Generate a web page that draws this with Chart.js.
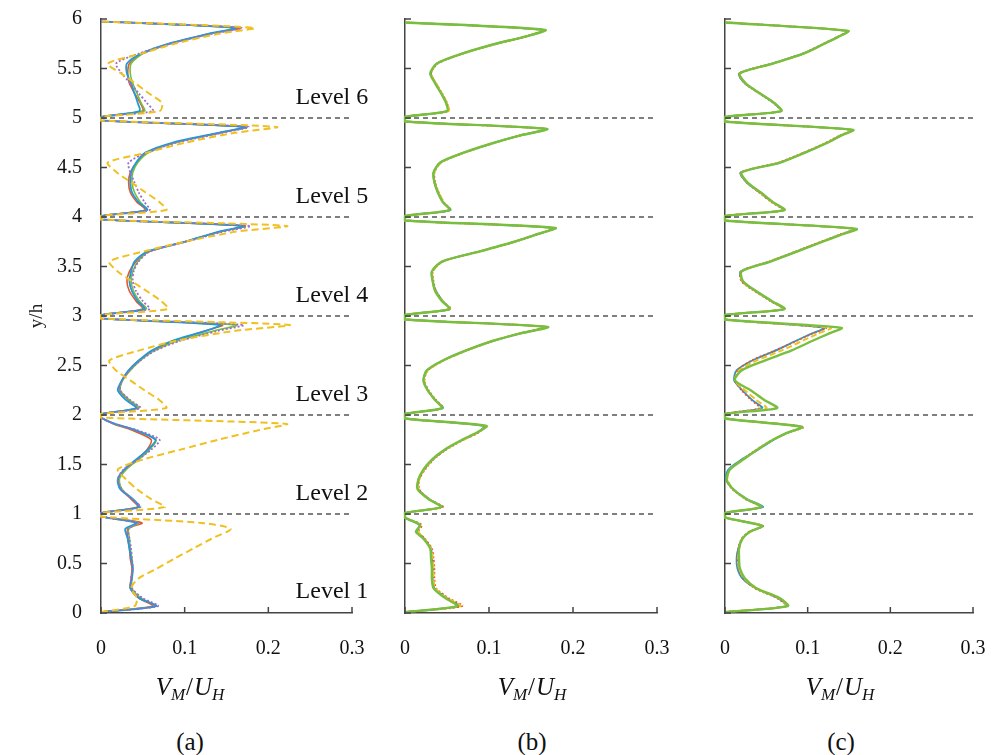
<!DOCTYPE html>
<html>
<head>
<meta charset="utf-8">
<script src="https://cdn.jsdelivr.net/npm/chart.js@4.4.1/dist/chart.umd.min.js"></script>
<style>
  body { margin: 0; background: #fff; }
  #wrap { position: relative; width: 994px; height: 755px; background: #fff; overflow: hidden; }
  canvas { position: absolute; top: 0; }
  .xt, .pl { position: absolute; transform: translateX(-50%); font-family: "Liberation Serif", "Times New Roman", "DejaVu Serif", serif; color: #111; white-space: nowrap; }
  .xt { top: 673px; font-size: 25px; font-style: italic; }
  .xt sub { font-size: 17px; vertical-align: -5px; }
  .xt span { font-style: normal; padding: 0 1px; }
  .pl { top: 728px; font-size: 25px; }
</style>
</head>
<body>
<div id="wrap">
  <canvas id="ca" width="385" height="680" style="left:0px"></canvas>
  <canvas id="cb" width="305" height="680" style="left:370px"></canvas>
  <canvas id="cc" width="304" height="680" style="left:690px"></canvas>
  <div class="xt" style="left:190px"><i>V</i><sub><i>M</i></sub><span>/</span><i>U</i><sub><i>H</i></sub></div>
  <div class="xt" style="left:532px"><i>V</i><sub><i>M</i></sub><span>/</span><i>U</i><sub><i>H</i></sub></div>
  <div class="xt" style="left:840px"><i>V</i><sub><i>M</i></sub><span>/</span><i>U</i><sub><i>H</i></sub></div>
  <div class="pl" style="left:190px">(a)</div>
  <div class="pl" style="left:532px">(b)</div>
  <div class="pl" style="left:841px">(c)</div>
</div>
<script>
// axes
var xMin = 0, xMax = 0.3;
var xTickValues = [0, 0.1, 0.2, 0.3];
var xTickLabels = ['0', '0.1', '0.2', '0.3'];
var yTickValues = [0, 0.5, 1, 1.5, 2, 2.5, 3, 3.5, 4, 4.5, 5, 5.5, 6];
var yTickLabels = ['0', '0.5', '1', '1.5', '2', '2.5', '3', '3.5', '4', '4.5', '5', '5.5', '6'];

// level boundaries and labels
var levelLines = [1, 2, 3, 4, 5];
var levelNames = ['Level 1', 'Level 2', 'Level 3', 'Level 4', 'Level 5', 'Level 6'];
var levelLabelY = [0.22, 1.2, 2.2, 3.2, 4.2, 5.21];
var levelLabelX = 0.276;

// (a) heights y/h and V_M/U_H per series
var yA = [0.01, 0.07, 0.15, 0.25, 0.35, 0.45, 0.55, 0.65, 0.75, 0.85, 0.91, 0.975,
          1.01, 1.07, 1.15, 1.25, 1.35, 1.45, 1.55, 1.65, 1.75, 1.85, 1.91, 1.975,
          2.01, 2.07, 2.15, 2.25, 2.35, 2.45, 2.55, 2.65, 2.75, 2.85, 2.91, 2.975,
          3.01, 3.07, 3.15, 3.25, 3.35, 3.45, 3.55, 3.65, 3.75, 3.85, 3.91, 3.975,
          4.01, 4.07, 4.15, 4.25, 4.35, 4.45, 4.55, 4.65, 4.75, 4.85, 4.91, 4.975,
          5.01, 5.07, 5.15, 5.25, 5.35, 5.45, 5.55, 5.65, 5.75, 5.85, 5.91, 5.975];
var aBlue = [0, 0.066, 0.046, 0.035, 0.037, 0.038, 0.036, 0.034, 0.032, 0.029, 0.042, 0,
             0, 0.045, 0.038, 0.023, 0.02, 0.028, 0.042, 0.056, 0.065, 0.04, 0.017, 0,
             0, 0.042, 0.03, 0.02, 0.025, 0.033, 0.045, 0.06, 0.085, 0.125, 0.142, 0,
             0, 0.052, 0.044, 0.037, 0.034, 0.036, 0.04, 0.055, 0.1, 0.14, 0.17, 0,
             0, 0.055, 0.045, 0.037, 0.035, 0.036, 0.042, 0.053, 0.085, 0.14, 0.172, 0,
             0, 0.046, 0.044, 0.04, 0.036, 0.031, 0.031, 0.048, 0.08, 0.128, 0.16, 0];
var aRed = [0, 0.062, 0.045, 0.035, 0.036, 0.037, 0.035, 0.034, 0.032, 0.032, 0.049, 0,
            0, 0.044, 0.036, 0.024, 0.021, 0.03, 0.043, 0.055, 0.06, 0.036, 0.015, 0,
            0, 0.045, 0.033, 0.022, 0.025, 0.033, 0.045, 0.062, 0.088, 0.125, 0.145, 0,
            0, 0.05, 0.042, 0.034, 0.031, 0.034, 0.042, 0.057, 0.1, 0.142, 0.172, 0,
            0, 0.053, 0.043, 0.035, 0.033, 0.035, 0.043, 0.056, 0.088, 0.142, 0.173, 0,
            0, 0.05, 0.047, 0.04, 0.034, 0.032, 0.034, 0.05, 0.083, 0.13, 0.165, 0];
var aGreen = [0, 0.065, 0.048, 0.037, 0.037, 0.038, 0.037, 0.035, 0.034, 0.033, 0.045, 0,
              0, 0.046, 0.038, 0.025, 0.022, 0.03, 0.045, 0.058, 0.066, 0.04, 0.016, 0,
              0, 0.045, 0.034, 0.023, 0.026, 0.035, 0.047, 0.064, 0.092, 0.135, 0.162, 0,
              0, 0.054, 0.046, 0.039, 0.036, 0.038, 0.044, 0.057, 0.1, 0.142, 0.17, 0,
              0, 0.055, 0.047, 0.04, 0.037, 0.038, 0.044, 0.057, 0.088, 0.142, 0.172, 0,
              0, 0.052, 0.048, 0.043, 0.038, 0.035, 0.036, 0.05, 0.083, 0.13, 0.16, 0];
var aPurple = [0, 0.068, 0.05, 0.037, 0.036, 0.038, 0.037, 0.036, 0.034, 0.033, 0.044, 0,
               0, 0.047, 0.037, 0.025, 0.02, 0.027, 0.044, 0.06, 0.07, 0.042, 0.017, 0,
               0, 0.047, 0.035, 0.023, 0.025, 0.034, 0.047, 0.065, 0.095, 0.14, 0.17, 0,
               0, 0.058, 0.05, 0.042, 0.038, 0.039, 0.045, 0.058, 0.102, 0.145, 0.178, 0,
               0, 0.058, 0.052, 0.045, 0.04, 0.035, 0.033, 0.055, 0.09, 0.145, 0.176, 0,
               0, 0.062, 0.055, 0.045, 0.035, 0.025, 0.018, 0.045, 0.082, 0.132, 0.168, 0];
var aYellow = [0, 0.04, 0.043, 0.036, 0.045, 0.067, 0.088, 0.11, 0.132, 0.155, 0.12, 0,
               0, 0.076, 0.06, 0.043, 0.03, 0.02, 0.05, 0.095, 0.14, 0.19, 0.222, 0,
               0, 0.078, 0.07, 0.052, 0.035, 0.018, 0.01, 0.045, 0.09, 0.16, 0.225, 0,
               0, 0.08, 0.072, 0.055, 0.037, 0.02, 0.01, 0.05, 0.1, 0.16, 0.222, 0,
               0, 0.078, 0.07, 0.053, 0.036, 0.019, 0.008, 0.055, 0.1, 0.16, 0.21, 0,
               0, 0.07, 0.073, 0.057, 0.041, 0.024, 0.008, 0.048, 0.088, 0.14, 0.183, 0];

// (b)
var yB = [0.01, 0.07, 0.15, 0.25, 0.35, 0.45, 0.55, 0.65, 0.75, 0.82, 0.89, 0.965,
          1.01, 1.07, 1.15, 1.25, 1.35, 1.45, 1.55, 1.65, 1.75, 1.82, 1.89, 1.965,
          2.01, 2.07, 2.15, 2.25, 2.35, 2.45, 2.55, 2.65, 2.75, 2.82, 2.89, 2.965,
          3.01, 3.07, 3.15, 3.25, 3.35, 3.45, 3.55, 3.65, 3.75, 3.82, 3.89, 3.965,
          4.01, 4.07, 4.15, 4.25, 4.35, 4.45, 4.55, 4.65, 4.75, 4.82, 4.89, 4.965,
          5.01, 5.07, 5.15, 5.25, 5.35, 5.45, 5.55, 5.65, 5.75, 5.82, 5.89, 5.965];
var bGreen = [0, 0.062, 0.048, 0.034, 0.032, 0.032, 0.031, 0.03, 0.022, 0.013, 0.018, 0,
              0, 0.043, 0.028, 0.015, 0.016, 0.022, 0.032, 0.047, 0.068, 0.085, 0.097, 0,
              0, 0.044, 0.036, 0.027, 0.022, 0.026, 0.045, 0.072, 0.105, 0.135, 0.17, 0,
              0, 0.053, 0.044, 0.036, 0.033, 0.032, 0.044, 0.088, 0.13, 0.155, 0.179, 0,
              0, 0.053, 0.045, 0.039, 0.035, 0.034, 0.042, 0.07, 0.106, 0.135, 0.169, 0,
              0, 0.05, 0.049, 0.043, 0.036, 0.03, 0.038, 0.068, 0.108, 0.142, 0.167, 0];
var bRed = [0, 0.068, 0.052, 0.037, 0.035, 0.035, 0.034, 0.032, 0.024, 0.016, 0.02, 0,
            0, 0.045, 0.029, 0.017, 0.017, 0.024, 0.034, 0.049, 0.07, 0.087, 0.095, 0,
            0, 0.045, 0.037, 0.028, 0.023, 0.027, 0.046, 0.073, 0.106, 0.136, 0.166, 0,
            0, 0.054, 0.045, 0.037, 0.034, 0.033, 0.045, 0.089, 0.131, 0.156, 0.176, 0,
            0, 0.054, 0.046, 0.04, 0.036, 0.035, 0.043, 0.071, 0.107, 0.136, 0.166, 0,
            0, 0.051, 0.05, 0.044, 0.037, 0.031, 0.039, 0.069, 0.109, 0.143, 0.163, 0];
var bBlue = [0, 0.064, 0.05, 0.035, 0.033, 0.033, 0.032, 0.031, 0.023, 0.015, 0.017, 0,
             0, 0.044, 0.029, 0.016, 0.016, 0.023, 0.033, 0.048, 0.069, 0.086, 0.094, 0,
             0, 0.045, 0.036, 0.027, 0.022, 0.026, 0.045, 0.072, 0.105, 0.135, 0.167, 0,
             0, 0.053, 0.045, 0.037, 0.033, 0.032, 0.044, 0.088, 0.13, 0.155, 0.177, 0,
             0, 0.054, 0.045, 0.039, 0.035, 0.034, 0.042, 0.07, 0.106, 0.135, 0.167, 0,
             0, 0.051, 0.049, 0.043, 0.036, 0.031, 0.038, 0.068, 0.108, 0.142, 0.165, 0];
var bYellow = [0, 0.066, 0.05, 0.036, 0.034, 0.034, 0.033, 0.031, 0.023, 0.016, 0.018, 0,
               0, 0.044, 0.028, 0.016, 0.017, 0.023, 0.033, 0.048, 0.069, 0.086, 0.096, 0,
               0, 0.044, 0.036, 0.027, 0.023, 0.027, 0.046, 0.073, 0.105, 0.135, 0.168, 0,
               0, 0.053, 0.045, 0.036, 0.033, 0.033, 0.045, 0.088, 0.13, 0.155, 0.178, 0,
               0, 0.053, 0.046, 0.04, 0.035, 0.035, 0.043, 0.07, 0.106, 0.135, 0.168, 0,
               0, 0.052, 0.05, 0.044, 0.037, 0.031, 0.038, 0.068, 0.108, 0.142, 0.166, 0];

// (c)
var yC = [0.01, 0.07, 0.15, 0.25, 0.35, 0.45, 0.55, 0.65, 0.75, 0.82, 0.88, 0.965,
          1.01, 1.07, 1.15, 1.25, 1.35, 1.45, 1.55, 1.65, 1.75, 1.82, 1.88, 1.965,
          2.01, 2.07, 2.15, 2.25, 2.35, 2.45, 2.55, 2.65, 2.75, 2.82, 2.88, 2.965,
          3.01, 3.07, 3.15, 3.25, 3.35, 3.45, 3.55, 3.65, 3.75, 3.82, 3.88, 3.965,
          4.01, 4.07, 4.15, 4.25, 4.35, 4.45, 4.55, 4.65, 4.75, 4.82, 4.88, 4.965,
          5.01, 5.07, 5.15, 5.25, 5.35, 5.45, 5.55, 5.65, 5.75, 5.82, 5.88, 5.965];
var cGreen = [0, 0.076, 0.066, 0.038, 0.024, 0.018, 0.017, 0.017, 0.021, 0.03, 0.045, 0,
              0, 0.044, 0.026, 0.01, 0.002, 0.006, 0.022, 0.039, 0.058, 0.075, 0.093, 0,
              0, 0.063, 0.048, 0.031, 0.012, 0.02, 0.048, 0.08, 0.106, 0.125, 0.141, 0,
              0, 0.072, 0.057, 0.038, 0.022, 0.02, 0.055, 0.087, 0.118, 0.14, 0.159, 0,
              0, 0.072, 0.058, 0.043, 0.027, 0.02, 0.067, 0.097, 0.124, 0.14, 0.155, 0,
              0, 0.068, 0.06, 0.042, 0.025, 0.018, 0.058, 0.095, 0.12, 0.137, 0.149, 0];
var cRed = [0, 0.074, 0.063, 0.036, 0.022, 0.016, 0.015, 0.016, 0.02, 0.029, 0.046, 0,
            0, 0.043, 0.025, 0.009, 0.002, 0.006, 0.021, 0.038, 0.058, 0.076, 0.095, 0,
            0, 0.042, 0.032, 0.02, 0.012, 0.015, 0.032, 0.06, 0.087, 0.105, 0.122, 0,
            0, 0.07, 0.055, 0.036, 0.02, 0.019, 0.053, 0.085, 0.116, 0.138, 0.156, 0,
            0, 0.07, 0.056, 0.041, 0.026, 0.019, 0.065, 0.095, 0.122, 0.138, 0.153, 0,
            0, 0.067, 0.059, 0.041, 0.024, 0.017, 0.057, 0.094, 0.119, 0.136, 0.148, 0];
var cBlue = [0, 0.075, 0.064, 0.037, 0.021, 0.015, 0.014, 0.016, 0.021, 0.03, 0.045, 0,
             0, 0.046, 0.027, 0.01, 0.001, 0.004, 0.02, 0.04, 0.059, 0.075, 0.092, 0,
             0, 0.045, 0.033, 0.021, 0.011, 0.014, 0.033, 0.061, 0.086, 0.104, 0.12, 0,
             0, 0.071, 0.056, 0.037, 0.021, 0.019, 0.054, 0.086, 0.117, 0.139, 0.157, 0,
             0, 0.071, 0.057, 0.042, 0.026, 0.019, 0.066, 0.096, 0.123, 0.139, 0.154, 0,
             0, 0.068, 0.059, 0.042, 0.024, 0.017, 0.057, 0.094, 0.12, 0.137, 0.149, 0];
var cYellow = [0, 0.075, 0.065, 0.037, 0.023, 0.017, 0.016, 0.017, 0.021, 0.03, 0.045, 0,
               0, 0.044, 0.026, 0.01, 0.003, 0.006, 0.022, 0.039, 0.058, 0.075, 0.093, 0,
               0, 0.05, 0.038, 0.024, 0.012, 0.017, 0.038, 0.068, 0.094, 0.112, 0.128, 0,
               0, 0.071, 0.056, 0.037, 0.021, 0.02, 0.054, 0.086, 0.117, 0.139, 0.158, 0,
               0, 0.071, 0.057, 0.042, 0.027, 0.02, 0.066, 0.096, 0.123, 0.139, 0.154, 0,
               0, 0.068, 0.06, 0.042, 0.025, 0.018, 0.058, 0.095, 0.12, 0.137, 0.149, 0];

var BLUE = '#1f9ad6', RED = '#e4572e', GREEN = '#79bf3f', PURPLE = '#9a6ccf', YELLOW = '#f0c020';
var AXIS = '#444';
var SERIF = '"Liberation Serif", "Times New Roman", "DejaVu Serif", serif';

Chart.defaults.font.family = SERIF;
Chart.defaults.color = '#111';

function series(xs, ys, color, width, dash) {
    return {
        data: xs.map(function (x, i) { return { x: x, y: ys[i] }; }),
        showLine: true,
        borderColor: color,
        borderWidth: width,
        borderDash: dash || [],
        pointRadius: 0,
        tension: 0.25,
        fill: false,
        clip: false
    };
}

function boundaries() {
    return levelLines.map(function (k) {
        return {
            data: [{ x: xMin, y: k }, { x: xMax, y: k }],
            showLine: true,
            borderColor: '#555',
            borderWidth: 1.5,
            borderDash: [5, 4],
            pointRadius: 0,
            clip: false
        };
    });
}

// short tick marks pointing into the plot
var inwardTicks = {
    id: 'inwardTicks',
    afterDraw: function (chart) {
        var ctx = chart.ctx, x = chart.scales.x, y = chart.scales.y, a = chart.chartArea;
        ctx.save();
        ctx.strokeStyle = AXIS;
        ctx.lineWidth = 1.5;
        ctx.beginPath();
        xTickValues.forEach(function (v) {
            var px = x.getPixelForValue(v);
            ctx.moveTo(px, a.bottom);
            ctx.lineTo(px, a.bottom - 6);
        });
        yTickValues.forEach(function (v) {
            var py = y.getPixelForValue(v);
            ctx.moveTo(a.left, py);
            ctx.lineTo(a.left + 6, py);
        });
        ctx.stroke();
        ctx.restore();
    }
};

var levelText = {
    id: 'levelText',
    afterDraw: function (chart) {
        var ctx = chart.ctx, x = chart.scales.x, y = chart.scales.y;
        ctx.save();
        ctx.font = '24px ' + SERIF;
        ctx.fillStyle = '#111';
        ctx.textAlign = 'center';
        ctx.textBaseline = 'middle';
        levelNames.forEach(function (t, i) {
            ctx.fillText(t, x.getPixelForValue(levelLabelX), y.getPixelForValue(levelLabelY[i]));
        });
        ctx.restore();
    }
};

function options(axisWidth, padRight, showY) {
    return {
        responsive: false,
        animation: false,
        devicePixelRatio: 1,
        layout: { padding: { top: 19, right: padRight, left: 0, bottom: 0 } },
        plugins: { legend: { display: false }, tooltip: { enabled: false } },
        scales: {
            x: {
                type: 'linear', min: xMin, max: xMax,
                afterFit: function (s) { s.height = 67; s.paddingLeft = 0; s.paddingRight = 0; },
                afterBuildTicks: function (s) { s.ticks = xTickValues.map(function (v) { return { value: v }; }); },
                grid: { display: false, drawTicks: false },
                border: { display: true, color: AXIS, width: 1.5 },
                ticks: {
                    autoSkip: false, maxRotation: 0, padding: 24,
                    font: { size: 20 }, color: '#111',
                    callback: function (v, i) { return xTickLabels[i]; }
                }
            },
            y: {
                type: 'linear', min: 0, max: 6,
                afterFit: function (s) { s.width = axisWidth; s.paddingTop = 0; s.paddingBottom = 0; },
                afterBuildTicks: function (s) { s.ticks = yTickValues.map(function (v) { return { value: v }; }); },
                grid: { display: false, drawTicks: false },
                border: { display: true, color: AXIS, width: 1.5 },
                title: {
                    display: showY, text: 'y/h', font: { size: 19 }, color: '#222',
                    padding: { top: 26, bottom: 0 }
                },
                ticks: {
                    display: showY, autoSkip: false, padding: 19,
                    font: { size: 20 }, color: '#111',
                    callback: function (v, i) { return yTickLabels[i]; }
                }
            }
        }
    };
}

new Chart(document.getElementById('ca'), {
    type: 'scatter',
    data: {
        datasets: [
            series(aYellow, yA, YELLOW, 2, [7, 4]),
            series(aPurple, yA, PURPLE, 1.8, [2, 2]),
            series(aBlue, yA, BLUE, 1.8),
            series(aGreen, yA, GREEN, 1.6),
            series(aRed, yA, RED, 1.6)
        ].concat(boundaries())
    },
    options: options(101, 33, true),
    plugins: [inwardTicks, levelText]
});

new Chart(document.getElementById('cb'), {
    type: 'scatter',
    data: {
        datasets: [
            series(bGreen, yB, GREEN, 2.4),
            series(bYellow, yB, YELLOW, 2, [6, 3]),
            series(bRed, yB, RED, 1.8, [2, 2]),
            series(bBlue, yB, BLUE, 1.8)
        ].concat(boundaries())
    },
    options: options(35, 18, false),
    plugins: [inwardTicks]
});

new Chart(document.getElementById('cc'), {
    type: 'scatter',
    data: {
        datasets: [
            series(cGreen, yC, GREEN, 2.4),
            series(cYellow, yC, YELLOW, 2, [6, 3]),
            series(cRed, yC, RED, 1.8, [2, 2]),
            series(cBlue, yC, BLUE, 1.8)
        ].concat(boundaries())
    },
    options: options(35, 21, false),
    plugins: [inwardTicks]
});
</script>
</body>
</html>
